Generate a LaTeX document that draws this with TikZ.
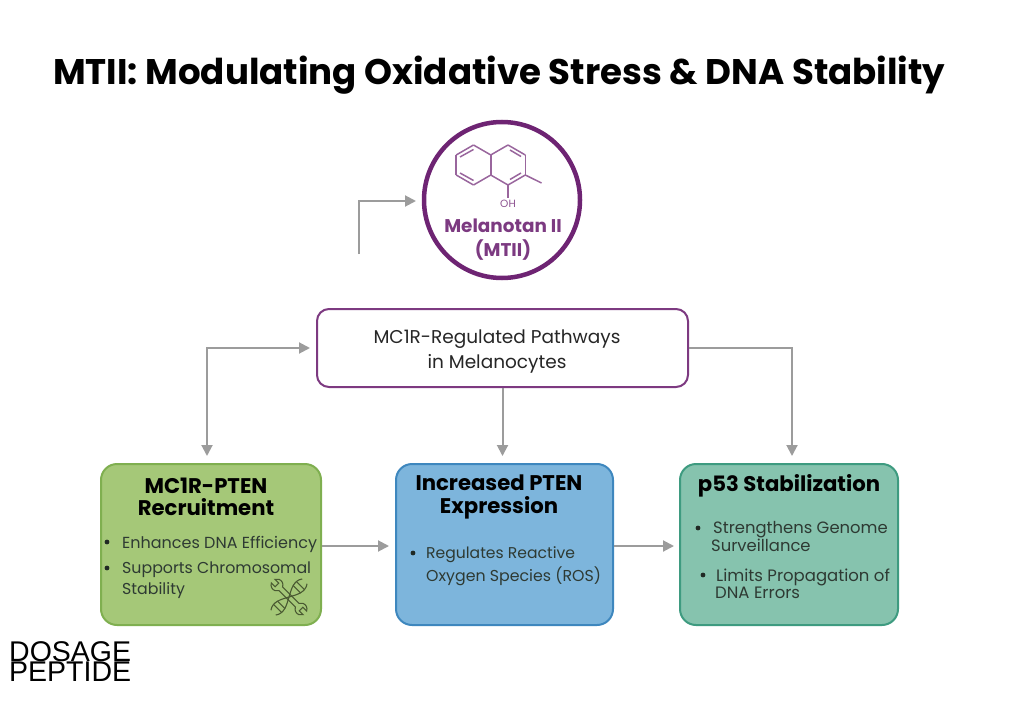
\documentclass[tikz,border=0pt]{standalone}
\usepackage{fontspec}
\setmainfont{Poppins}
\newfontfamily\logofont{Liberation Sans}
\usetikzlibrary{arrows.meta}

\definecolor{mtpurple}{HTML}{6E2473}
\definecolor{mtflow}{HTML}{9C9C9C}
\definecolor{mtink}{HTML}{2E3A33}
\definecolor{mticon}{HTML}{4A5A32}
\definecolor{recruitline}{HTML}{7FAF50}
\definecolor{recruitfill}{HTML}{A5C878}
\definecolor{expressionline}{HTML}{3E87BE}
\definecolor{expressionfill}{HTML}{7DB5DC}
\definecolor{stabilline}{HTML}{3E9B80}
\definecolor{stabilfill}{HTML}{86C3AE}

\tikzset{
    flow/.style={draw=mtflow, line width=2pt, -{Triangle[length=11pt, width=11pt]}},
    stagebox/.style={draw, line width=2pt, rounded corners=16pt, anchor=north west},
    stagehead/.style={font=\fontsize{21.2}{22.5}\selectfont\bfseries, text=black, align=center},
    stageline/.style={text=mtink, anchor=west, inner sep=0pt},
    molbond/.style={draw=mtpurple!70, line width=1.5pt},
}

\begin{document}
\begin{tikzpicture}[x=1pt, y=-1pt]
        \useasboundingbox (0,0) rectangle (1024,703);

        \node[anchor=west, inner sep=0pt, font=\fontsize{35.6}{40}\selectfont\bfseries] (title) at (53,75) {MTII: Modulating Oxidative Stress \& DNA Stability};

        % top circle and molecule
        \node[circle, draw=mtpurple, line width=4.5pt, minimum size=156pt, inner sep=0pt] (mtii) at (502,200) {};
        \foreach \angle in {30,90,...,330} {
            \draw[molbond] (473.5,165) ++(\angle:20) -- ++(\angle+120:20);
            \draw[molbond] (508,165) ++(\angle:20) -- ++(\angle+120:20);
        }
        \draw[molbond] (460,157) -- (473.5,149.5);
        \draw[molbond] (460,173) -- (473.5,180.5);
        \draw[molbond] (510,150) -- (521,156.5);
        \draw[molbond] (521,173) -- (510,179.5);
        \draw[molbond] (525.3,175) -- (541.5,183);
        \draw[mtpurple!70, line width=2.5pt] (508,185) -- (508,198);
        \node[font=\fontsize{10.5}{10}\selectfont, text=mtpurple!80, inner sep=0pt] (oh) at (508,204) {OH};
        \node[font=\fontsize{18.4}{24}\selectfont\bfseries, text=mtpurple!90, align=center, inner sep=0pt] (mtiilabel) at (503,240) {Melanotan II\\(MTII)};

        % boxes
        \node[stagebox, draw=mtpurple!90, fill=white, minimum width=371pt, minimum height=78pt, rounded corners=12pt] (pathways) at (316,308) {};
        \node[stagebox, draw=recruitline, fill=recruitfill, minimum width=220pt, minimum height=161pt] (recruit) at (100,463) {};
        \node[stagebox, draw=expressionline, fill=expressionfill, minimum width=217pt, minimum height=161pt] (expression) at (395,463) {};
        \node[stagebox, draw=stabilline, fill=stabilfill, minimum width=218pt, minimum height=161pt] (stabil) at (679,463) {};

        \node[font=\fontsize{18.5}{25}\selectfont, text=black!85, align=center, inner sep=0pt] (pathwayslabel) at (497,352) {MC1R-Regulated Pathways\\in Melanocytes};

        % box texts
        \node[stagehead] (recruithead) at (206,497) {MC1R-PTEN\\Recruitment};
        \node[stagehead] (expressionhead) at (499,497) {Increased PTEN\\Expression};
        \node[stagehead] (stabilhead) at (789,486) {p53 Stabilization};

        \foreach \name/\xpos/\ypos/\size/\txt in {
            a/122/544/16/{Enhances DNA Efficiency},
            b/122/570/15.8/{Supports Chromosomal},
            c/122/591/15.8/{Stability},
            d/426/555/15.6/{Regulates Reactive},
            e/426/576/15.8/{Oxygen Species (ROS)},
            f/713/530/16.4/{Strengthens Genome},
            g/711/545.5/16.4/{Surveillance},
            h/716/577/16.5/{Limits Propagation of},
            i/715/593/16.5/{DNA Errors}
        } \node[stageline, font=\fontsize{\size}{18}\selectfont] (line\name) at (\xpos,\ypos) {\txt};

        \foreach \name/\xpos/\ypos in {a/107/542, b/107/568, d/413/553, f/698/528, h/703/575}
            \fill[mtink!70!black] (\xpos,\ypos) circle (2.4pt) coordinate (dot\name);

        % tool and strand icon
        \begin{scope}[shift={(289,597)}, x=1pt, y=1pt, rotate=-45, scale=.85, draw=mticon, line width=1.1pt]
            \draw (13.7,-3) arc[start angle=205, end angle=335, radius=7] -- (20,-3) -- (20,3) -- (26.3,3)
                arc[start angle=25, end angle=155, radius=7] -- (-13.7,3)
                arc[start angle=25, end angle=155, radius=7] -- (-20,3) -- (-20,-3) -- (-26.3,-3)
                arc[start angle=205, end angle=335, radius=7] -- cycle;
        \end{scope}
        \begin{scope}[shift={(289,597)}, x=1pt, y=1pt, rotate=45, scale=.85, draw=mticon, line width=1.1pt]
            \draw (-26,4) .. controls (-10,16) and (10,-16) .. (26,-4);
            \draw (-26,-4) .. controls (-10,-16) and (10,16) .. (26,4);
            \foreach \rung/\reach in {-19/6,-13/6.5,13/6.5,19/6}
                \draw (\rung,-\reach) -- (\rung,\reach);
        \end{scope}

        % connectors
        \coordinate (pathleft) at (310,348);
        \coordinate (recruittop) at (207,456);
        \coordinate (stabiltop) at (792,456);
        \coordinate (mtiistart) at (359,254);
        \coordinate (mtiiend) at (416,201);

        \draw[flow, {Triangle[length=11pt, width=11pt]}-{Triangle[length=11pt, width=11pt]}] (pathleft) -| (recruittop);
        \draw[flow] (pathways.east) -| (stabiltop);
        \draw[flow, shorten >=7pt] (pathways.south) -- (pathways.south |- expression.north);
        \draw[flow, shorten >=6pt] (recruit.east |- 0,546) -- (expression.west |- 0,546);
        \draw[flow, shorten >=5pt] (expression.east |- 0,546) -- (stabil.west |- 0,546);
        \draw[flow] (mtiistart) |- (mtiiend);

        % logo
        \node[anchor=west, inner sep=0pt, font=\fontsize{28.5}{28}\logofont] (logoa) at (9,652) {DOSAGE};
        \node[anchor=west, inner sep=0pt, font=\fontsize{28.5}{28}\logofont] (logob) at (9,672) {PEPTIDE};
    \end{tikzpicture}
\end{document}
